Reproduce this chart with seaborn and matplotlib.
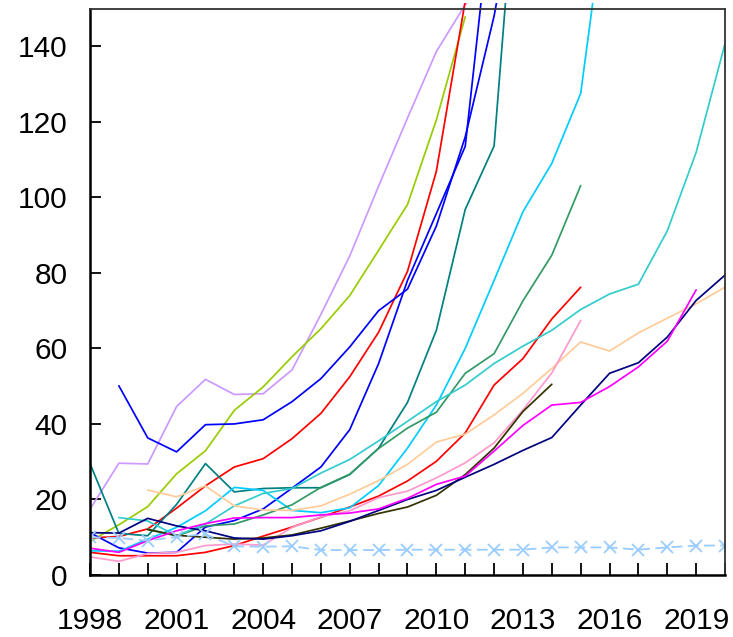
import pandas as pd
import matplotlib
matplotlib.use("Agg")
import matplotlib.pyplot as plt
import seaborn as sns
from matplotlib.ticker import MultipleLocator, FormatStrFormatter
from matplotlib.transforms import Bbox, TransformedBbox

# values (None = no data that year)
years = list(range(1998, 2021))

lavender = [17.4, 29.6, 29.4, 44.6, 51.8, 47.8, 48.0, 54.3, 69.0, 84.5, 103.0, 121.0, 138.6,
            151.0, 160.0] + [None] * 8
yellowgreen = [8.9, 13.3, 18.1, 26.8, 32.9, 43.6, 49.8, 57.8, 65.2, 74.0, 86.0, 98.1, 120.5,
               147.8] + [None] * 9
red_a = [9.8, 10.2, 12.2, 17.7, 23.6, 28.6, 30.8, 36.1, 42.8, 52.5, 64.3, 80.4, 106.9,
         152.0] + [None] * 9
red_b = [6.0, 5.1, 5.1, 5.1, 6.0, 7.8, 10.3, 12.7, 15.3, 18.0, 20.9, 24.9, 30.1, 37.6, 50.3,
         57.3, 67.8, 76.2] + [None] * 5
blue_a = [None, 50.1, 36.3, 32.6, 39.8, 40.0, 41.1, 45.9, 52.0, 60.4, 70.0, 75.7, 92.4, 116.0,
          148.0, 190.0] + [None] * 7
blue_b = [11.2, 7.2, 5.8, 6.0, 12.7, 14.4, 17.5, 23.0, 28.6, 38.5, 56.0, 78.0, 95.7, 113.5,
          183.0] + [None] * 8
teal = [29.5, 11.0, 10.4, 18.7, 29.5, 22.0, 22.9, 23.1, 23.1, 26.6, 33.6, 45.7, 64.8, 96.8,
        113.6, 210.0] + [None] * 7
cyan = [6.4, 6.3, 9.5, 12.6, 17.0, 23.2, 22.4, 17.1, 16.5, 17.8, 23.7, 33.6, 45.0, 60.0, 78.0,
        96.2, 109.0, 127.5, 185.0] + [None] * 4
seagreen = [None, None, 12.2, 10.3, 13.0, 13.5, 15.9, 18.6, 23.2, 26.7, 33.5, 38.9, 43.1, 53.4,
            58.6, 72.6, 84.7, 103.1] + [None] * 5
turquoise = [None, 15.2, 14.3, 10.4, 13.5, 18.3, 21.6, 22.9, 27.0, 30.6, 35.5, 40.7, 45.9, 50.3,
             56.0, 60.6, 64.8, 70.3, 74.4, 77.0, 91.1, 111.9, 140.7]
navy = [11.2, 11.1, 15.0, 13.0, 11.7, 9.8, 9.5, 10.4, 11.7, 14.2, 17.1, 20.0, 22.4, 25.9, 29.3,
        33.0, 36.4, 45.0, 53.4, 56.2, 63.0, 72.7, 79.4]
magenta = [7.1, 6.0, 9.1, 11.7, 13.6, 15.1, 15.2, 15.2, 15.9, 16.4, 17.5, 20.3, 24.0, 26.2,
           32.8, 39.6, 45.0, 45.7, 49.9, 55.1, 61.9, 75.5, None]
peach = [None, None, 22.5, 20.7, 23.6, 18.3, 17.2, 17.1, 18.3, 21.4, 25.0, 29.3, 35.2, 37.3,
         42.4, 48.1, 54.7, 61.7, 59.3, 64.1, 68.0, 71.8, 76.2]
pink = [4.8, 3.6, 5.7, 6.0, 7.8, 8.2, 7.9, 12.6, 15.4, 17.0, 20.5, 22.2, 25.7, 29.7, 35.0,
        43.7, 53.5, 67.4] + [None] * 5
olive = [None, None, 12.0, 10.5, 10.0, 9.5, 9.8, 10.6, 12.4, 14.3, 16.3, 18.0, 21.1, 26.6,
         33.6, 43.3, 50.5] + [None] * 6
lightblue = [10.0, 9.8, 9.1, 10.1, 10.8, 7.6, 7.5, 7.6, 6.6, 6.6, 6.6, 6.7, 6.7, 6.7, 6.7, 6.7,
             7.3, 7.3, 7.3, 6.7, 7.3, 7.8, 7.8]

series = [
    (lavender, "#CC99FF"), (yellowgreen, "#99CC00"), (red_a, "#FF0000"), (red_b, "#FF0000"),
    (blue_a, "#0000FF"), (blue_b, "#0000FF"), (teal, "#008080"), (cyan, "#00CCFF"),
    (seagreen, "#339966"), (turquoise, "#33CCCC"), (peach, "#FFCC99"), (pink, "#FF99CC"),
    (olive, "#333300"), (navy, "#000080"), (magenta, "#FF00FF"),
]

sns.set_style("white")
plt.rcParams["font.family"] = ["Liberation Sans", "DejaVu Sans"]

fig = plt.figure(figsize=(7.33, 6.37), dpi=100)
ax = fig.add_axes([90 / 733, 62 / 637, 635 / 733, 566.5 / 637])

for vals, color in series:
    df = pd.DataFrame({"year": years, "value": vals}).dropna()
    sns.lineplot(data=df, x="year", y="value", color=color, lw=1.25, ax=ax)

df = pd.DataFrame({"year": years, "value": lightblue})
sns.lineplot(data=df, x="year", y="value", color="#99CCFF", lw=1.3, ax=ax,
             marker="x", markersize=8, markeredgewidth=1.3, markeredgecolor="#99CCFF",
             linestyle=(0, (6, 3)))

# lines run a few pixels past the top frame, like the original
clip = TransformedBbox(Bbox([[0, 0], [1, 1.0095]]), ax.transAxes)
for line in ax.lines:
    line.set_clip_path(None)
    line.set_clip_box(clip)

ax.set_xlim(1998, 2020)
ax.set_ylim(0, 150)
ax.set_xlabel("")
ax.set_ylabel("")
ax.xaxis.set_major_locator(MultipleLocator(3))
ax.xaxis.set_minor_locator(MultipleLocator(1))
ax.xaxis.set_major_formatter(FormatStrFormatter("%d"))
ax.yaxis.set_major_locator(MultipleLocator(20))

ax.tick_params(axis="x", which="both", direction="in", length=9, width=1.3, color="black",
               bottom=True, top=False, pad=23, labelsize=21.5, labelcolor="black")
ax.tick_params(axis="y", which="both", direction="in", length=8, width=1.3, color="black",
               left=True, right=False, pad=16, labelsize=21.5, labelcolor="black")

for side in ["left", "bottom"]:
    ax.spines[side].set_color("black")
    ax.spines[side].set_linewidth(1.8)
for side in ["top", "right"]:
    ax.spines[side].set_color("#333333")
    ax.spines[side].set_linewidth(1.3)

fig.savefig("out.png", dpi=100)
plt.close(fig)
